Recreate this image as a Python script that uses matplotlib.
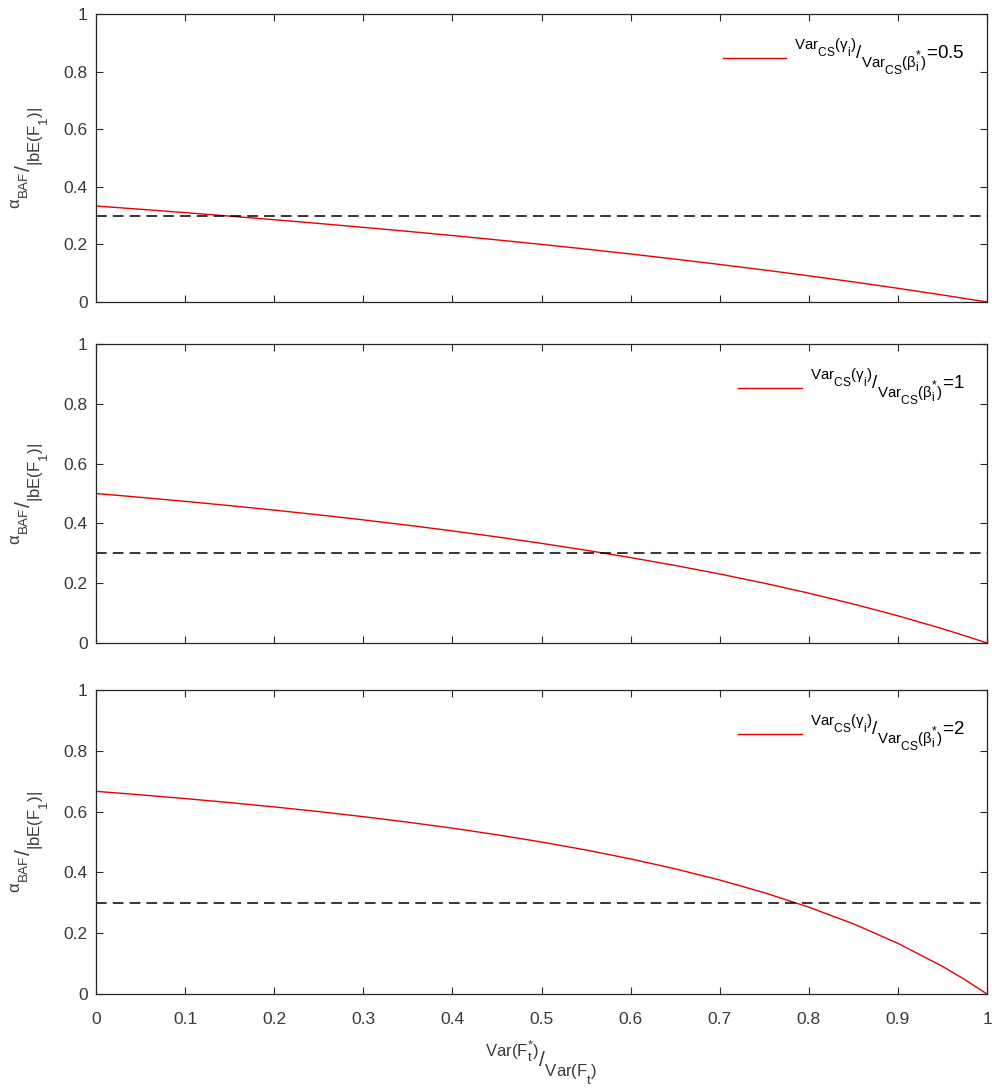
import matplotlib
matplotlib.use("Agg")
import numpy as np
import matplotlib.pyplot as plt
import matplotlib._mathtext as _mt
from matplotlib.legend_handler import HandlerLine2D

# MATLAB's TeX sub/superscripts are less shrunk and more offset than matplotlib's default
_mt.SHRINK_FACTOR = 0.8
_mt.FontConstantsBase.sup1 = 0.9
_mt.FontConstantsBase.sub1 = 0.9

plt.rcParams['font.family'] = ['Liberation Sans', 'DejaVu Sans']
plt.rcParams['mathtext.fontset'] = 'custom'
plt.rcParams['mathtext.rm'] = 'Liberation Sans'
plt.rcParams['mathtext.it'] = 'Liberation Sans:italic'
plt.rcParams['mathtext.sf'] = 'Liberation Sans'

x_vals = [0.0, 0.05, 0.1, 0.15, 0.2, 0.25, 0.3, 0.35, 0.4, 0.45, 0.5,
          0.55, 0.6, 0.65, 0.7, 0.75, 0.8, 0.85, 0.9, 0.95, 0.975, 1.0]
y_ratio_05 = [0.3333, 0.3220, 0.3103, 0.2982, 0.2857, 0.2727, 0.2593, 0.2453, 0.2308, 0.2157, 0.2000,
              0.1837, 0.1667, 0.1489, 0.1304, 0.1111, 0.0909, 0.0698, 0.0476, 0.0244, 0.0123, 0.0]
y_ratio_1 = [0.5000, 0.4872, 0.4737, 0.4595, 0.4444, 0.4286, 0.4118, 0.3939, 0.3750, 0.3548, 0.3333,
             0.3103, 0.2857, 0.2593, 0.2308, 0.2000, 0.1667, 0.1304, 0.0909, 0.0476, 0.0244, 0.0]
y_ratio_2 = [0.6667, 0.6552, 0.6429, 0.6296, 0.6154, 0.6000, 0.5833, 0.5652, 0.5455, 0.5238, 0.5000,
             0.4737, 0.4444, 0.4118, 0.3750, 0.3333, 0.2857, 0.2308, 0.1667, 0.0909, 0.0476, 0.0]
threshold = 0.3
ratio_labels = ['0.5', '1', '2']
x_ticks = [0, 0.1, 0.2, 0.3, 0.4, 0.5, 0.6, 0.7, 0.8, 0.9, 1]
x_tick_labels = ['0', '0.1', '0.2', '0.3', '0.4', '0.5', '0.6', '0.7', '0.8', '0.9', '1']
y_ticks = [0, 0.2, 0.4, 0.6, 0.8, 1]
y_tick_labels = ['0', '0.2', '0.4', '0.6', '0.8', '1']

series = [y_ratio_05, y_ratio_1, y_ratio_2]


class LowLine(HandlerLine2D):
    """Legend line drawn near the text baseline, as MATLAB does."""
    def create_artists(self, legend, orig_handle, xdescent, ydescent,
                       width, height, fontsize, trans):
        arts = super().create_artists(legend, orig_handle, xdescent, ydescent,
                                      width, height, fontsize, trans)
        for a in arts:
            a.set_ydata(np.asarray(a.get_ydata(), dtype=float) - 4.5)
        return arts


W, H = 992, 1088
fig = plt.figure(figsize=(W / 100, H / 100), dpi=100)

# pixel boxes (left, top, right, bottom)
boxes = [(96, 14, 987, 302), (96, 344, 987, 643), (96, 690, 987, 994)]

axis_col = '#262626'
txt_col = '#3a3a3a'
ylab = r'$^{\mathrm{\alpha}_{\mathrm{BAF}}}/_{\mathrm{|bE(F}_{\mathrm{1}}\mathrm{)|}}$'
xlab = r'$^{\mathrm{Var(F}_{\mathrm{t}}^{*}\mathrm{)}}/_{\mathrm{Var(F}_{\mathrm{t}}\mathrm{)}}$'

for i, (ys, lab) in enumerate(zip(series, ratio_labels)):
    l, t, r, b = boxes[i]
    ax = fig.add_axes([l / W, 1 - b / H, (r - l) / W, (b - t) / H])
    leg = (r'$^{\mathrm{Var}_{\mathrm{CS}}\mathrm{(\gamma}_{\mathrm{i}}\mathrm{)}}'
           r'/_{\mathrm{Var}_{\mathrm{CS}}\mathrm{(\beta}_{\mathrm{i}}^{*}\mathrm{)}}$' + '=' + lab)
    line, = ax.plot(x_vals, ys, color='#e60000', lw=1.0, label=leg)
    ax.axhline(threshold, color='black', lw=1.1, ls=(0, (7, 4)))
    ax.set_xlim(0, 1)
    ax.set_ylim(0, 1)
    ax.set_xticks(x_ticks)
    ax.set_yticks(y_ticks)
    ax.set_yticklabels(y_tick_labels)
    ax.tick_params(direction='in', length=5, width=0.8, colors=axis_col,
                   labelsize=12.5, top=True, right=True, labelcolor=txt_col)
    ax.tick_params(axis='x', pad=13)
    ax.tick_params(axis='y', pad=6)
    for s in ax.spines.values():
        s.set_color(axis_col)
        s.set_linewidth(0.9)
    ax.set_ylabel(ylab, fontsize=15, color=txt_col, labelpad=9)
    if i < 2:
        ax.set_xticklabels([])
    else:
        ax.set_xticklabels(x_tick_labels)
        ax.set_xlabel(xlab, fontsize=15, color=txt_col, labelpad=8)
    ax.legend(loc='upper right', frameon=False, fontsize=13.5, handlelength=3.4,
              borderaxespad=0.8, handletextpad=0.4,
              handler_map={line: LowLine()})

fig.savefig('out.png', dpi=100)
